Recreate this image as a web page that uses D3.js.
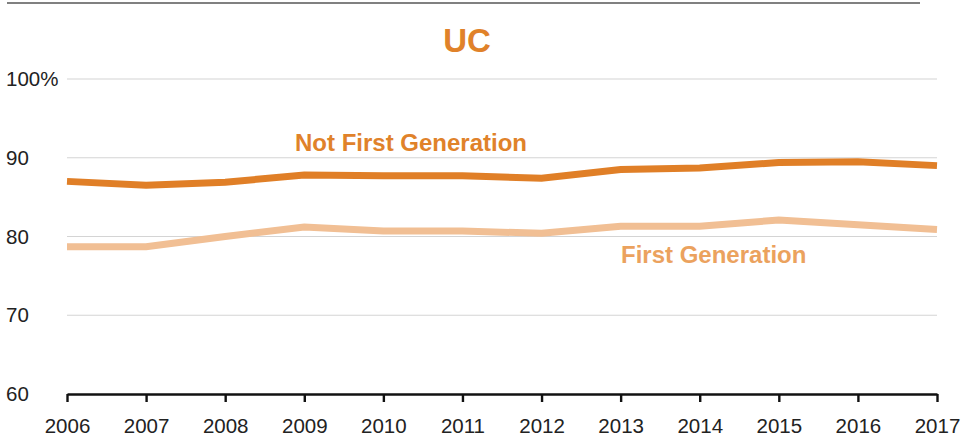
<!DOCTYPE html>
<html>
  <head>
    <meta charset="utf-8">
    <title>UC</title>
    <script src="https://d3js.org/d3.v7.min.js"></script>
    <style>
      body { margin: 0; background: #fff; }
      svg { font-family: "Liberation Sans", Arial, sans-serif; }
      .grid line { stroke: #d4d4d4; stroke-width: 1.2; }
      .axisLabel { font-size: 20.5px; fill: #222; }
    </style>
  </head>
  <body>
    <svg id="chart" width="963" height="440"></svg>
    <script>
      // data
      var years = [2006, 2007, 2008, 2009, 2010, 2011, 2012, 2013, 2014, 2015, 2016, 2017];
      var notFirstGen = [87.0, 86.5, 86.9, 87.8, 87.7, 87.7, 87.4, 88.5, 88.7, 89.4, 89.5, 89.0];
      var firstGen = [78.7, 78.7, 80.0, 81.2, 80.7, 80.7, 80.4, 81.3, 81.3, 82.1, 81.5, 80.9];
      var yTicks = [60, 70, 80, 90, 100];

      var chart = d3.select("#chart");
      var margin = { top: 79, right: 26, bottom: 46, left: 67 };
      var width = 963, height = 440;

      var x = d3.scaleLinear()
        .domain([2006, 2017])
        .range([margin.left, width - margin.right]);
      var y = d3.scaleLinear()
        .domain([60, 100])
        .range([height - margin.bottom, margin.top]);

      // top rule
      chart.append("line")
        .attr("x1", 7).attr("x2", 920)
        .attr("y1", 3).attr("y2", 3)
        .style("stroke", "#808080")
        .style("stroke-width", 2);

      // title
      chart.append("text")
        .attr("x", 467).attr("y", 52)
        .attr("text-anchor", "middle")
        .style("font-size", "33px")
        .style("font-weight", "bold")
        .style("fill", "#E0822A")
        .text("UC");

      // gridlines
      chart.append("g")
        .attr("class", "grid")
        .selectAll("line")
        .data(yTicks.filter(function(d) { return d > 60; }))
        .join("line")
          .attr("x1", x(2006)).attr("x2", x(2017))
          .attr("y1", function(d) { return y(d); })
          .attr("y2", function(d) { return y(d); });

      // y labels
      chart.append("g")
        .selectAll("text")
        .data(yTicks)
        .join("text")
          .attr("class", "axisLabel")
          .attr("x", 6)
          .attr("y", function(d) { return y(d); })
          .attr("dy", "0.35em")
          .text(function(d) { return d === 100 ? "100%" : d; });

      // x axis
      var xAxis = d3.axisBottom(x)
        .tickValues(years)
        .tickFormat(d3.format("d"))
        .tickSizeInner(8)
        .tickSizeOuter(0)
        .tickPadding(16);
      var xAxisGroup = chart.append("g")
        .attr("transform", "translate(0," + y(60) + ")")
        .call(xAxis);
      xAxisGroup.select(".domain").style("stroke", "#111").style("stroke-width", 2.4);
      xAxisGroup.selectAll(".tick line").style("stroke", "#111").style("stroke-width", 2.4);
      xAxisGroup.selectAll(".tick text")
        .style("font-size", "20.5px")
        .style("font-family", "Liberation Sans, Arial, sans-serif")
        .style("fill", "#222");

      // lines
      var line = d3.line()
        .x(function(d, i) { return x(years[i]); })
        .y(function(d) { return y(d); });

      chart.append("path")
        .datum(firstGen)
        .attr("d", line)
        .style("fill", "none")
        .style("stroke", "#F1BF94")
        .style("stroke-width", 7);

      chart.append("path")
        .datum(notFirstGen)
        .attr("d", line)
        .style("fill", "none")
        .style("stroke", "#E07F27")
        .style("stroke-width", 7);

      // series labels
      chart.append("text")
        .attr("x", 295).attr("y", 151)
        .style("font-size", "24px")
        .style("font-weight", "bold")
        .style("fill", "#E0822A")
        .text("Not First Generation");

      chart.append("text")
        .attr("x", 621).attr("y", 263)
        .style("font-size", "24px")
        .style("font-weight", "bold")
        .style("fill", "#EBA25E")
        .text("First Generation");
    </script>
  </body>
</html>
